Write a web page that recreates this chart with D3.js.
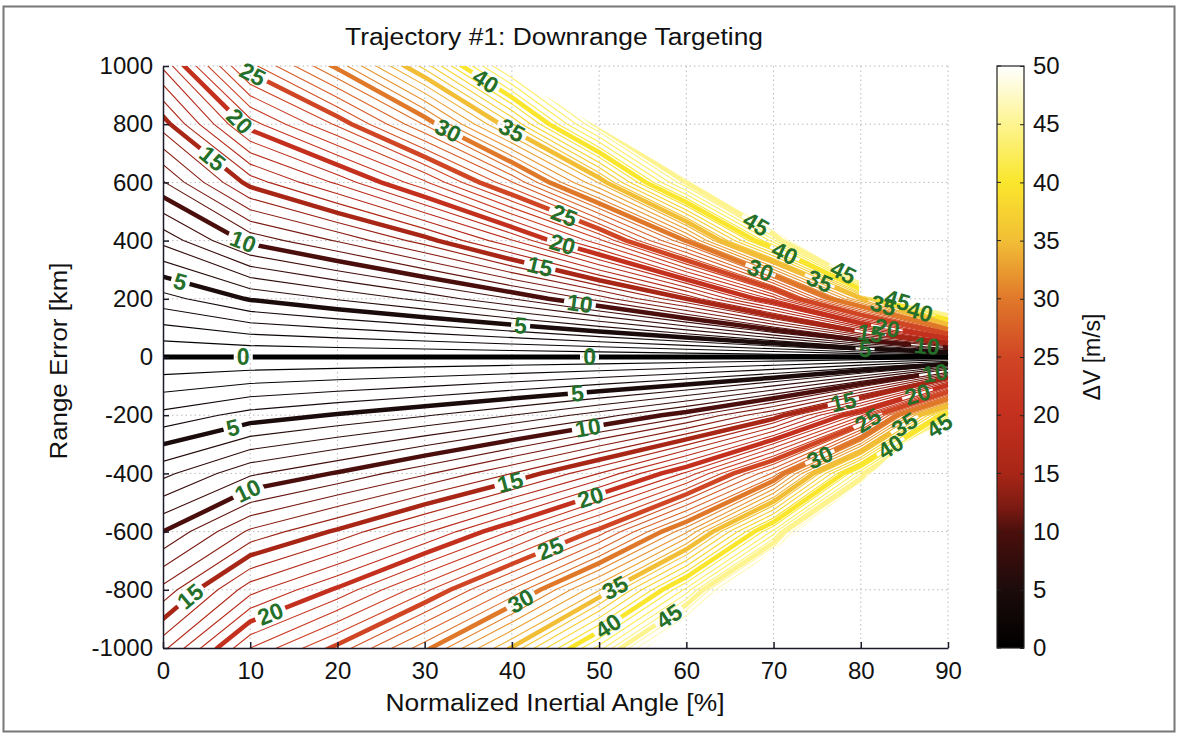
<!DOCTYPE html>
<html>
<head>
<meta charset="utf-8">
<script src="https://cdn.jsdelivr.net/npm/d3@7"></script>
<style>
  body { margin: 0; background: #fff; }
  text { font-family: Arial, "Liberation Sans", sans-serif; }
</style>
</head>
<body>
<div id="chart"></div>
<script>
// grid nodes: Normalized Inertial Angle [%] (columns) and Range Error [km] (rows)
const gridX = [-10, 0, 10, 20, 30, 40, 50, 60, 70, 80, 90, 100];
const gridY = [-1200, -1000, -800, -600, -400, -200, 0, 200, 400, 600, 800, 1000, 1200];
// ΔV [m/s] read at each node, one row per gridY value
const dvRows = [
    [20.0, 20.0, 26.4, 30.3, 35.5, 42.1, 50.9, 63.5, 84.5, 129.0, 250.0, 250.0],
    [16.7, 16.7, 22.0, 25.3, 29.6, 35.1, 42.4, 52.9, 70.4, 107.5, 208.3, 208.3],
    [13.3, 13.3, 17.6, 20.2, 23.7, 28.1, 33.9, 42.3, 56.3, 86.0, 166.7, 166.7],
    [10.0, 10.0, 13.2, 15.2, 17.8, 21.1, 25.4, 31.8, 42.3, 64.5, 125.0, 125.0],
    [6.7, 6.7, 8.8, 10.1, 11.8, 14.0, 17.0, 21.2, 28.2, 43.0, 83.3, 83.3],
    [3.3, 3.3, 4.4, 5.1, 5.9, 7.0, 8.5, 10.6, 14.1, 21.5, 41.7, 41.7],
    [0, 0, 0, 0, 0, 0, 0, 0, 0, 0, 0, 0],
    [3.6, 3.6, 5.1, 6.1, 7.3, 9.0, 11.4, 15.0, 21.3, 34.5, 62.5, 62.5],
    [7.3, 7.3, 10.3, 12.1, 14.5, 17.9, 22.7, 30.1, 42.6, 69.0, 125.0, 125.0],
    [10.9, 10.9, 15.4, 18.2, 21.8, 26.9, 34.1, 45.1, 63.8, 103.4, 187.5, 187.5],
    [14.5, 14.5, 20.5, 24.2, 29.1, 35.9, 45.5, 60.2, 85.1, 137.9, 250.0, 250.0],
    [18.2, 18.2, 25.6, 30.3, 36.4, 44.8, 56.8, 75.2, 106.4, 172.4, 312.5, 312.5],
    [21.8, 21.8, 30.8, 36.4, 43.6, 53.8, 68.2, 90.2, 127.7, 206.9, 375.0, 375.0]
];
// edge of the computed region (angle %, range km)
const fanBoundary = [[0, 1000], [38, 1000], [79.8, 262], [79.8, 213], [90, 151],
    [90, -216], [85, -295], [80.3, -425], [55.5, -1000], [0, -1000]];
// contour levels (sign = side of target)
const levels = d3.range(-50, 51);
// inline labels: [level, angle %]
const labelSpots = [
    [25, 10.3], [20, 8.8], [15, 5.7], [10, 9.2], [5, 2], [0, 9.2],
    [40, 37], [30, 32.7], [35, 40], [25, 46], [20, 45.8], [15, 43.2], [10, 47.8], [5, 41], [0, 48.9],
    [45, 68], [40, 71.3], [30, 68.5], [35, 75.3], [45, 78],
    [35, 82.6], [45, 84.2], [40, 86.8], [15, 81.1], [20, 83], [5, 80.5], [10, 87.6],
    [-5, 8], [-10, 9.7], [-15, 3.1], [-20, 12.3],
    [-5, 47.5], [-10, 48.7], [-15, 39.8], [-20, 49], [-25, 44.4], [-30, 41], [-35, 51.8], [-40, 51], [-45, 58],
    [-15, 78], [-25, 80.8], [-30, 75.3], [-40, 83.4], [-35, 85], [-20, 86.5], [-45, 89], [-10, 88.5]
];
const xTicks = [0, 10, 20, 30, 40, 50, 60, 70, 80, 90];
const yTicks = [-1000, -800, -600, -400, -200, 0, 200, 400, 600, 800, 1000];
const cbTicks = [0, 5, 10, 15, 20, 25, 30, 35, 40, 45, 50];
const colorStops = [0, 5, 10, 12, 15, 20, 25, 30, 35, 40, 45, 50];
const colorValues = ["#000000", "#1c0b0b", "#4a0f0c", "#7a1a12", "#a82616", "#c4301e", "#d04624",
    "#e0782a", "#f2be36", "#fae62c", "#fdf490", "#ffffff"];

const width = 1177, height = 734;
const x = d3.scaleLinear().domain([0, 90]).range([163, 948]);
const y = d3.scaleLinear().domain([-1000, 1000]).range([648, 66]);
const color = d3.scaleLinear().domain(colorStops).range(colorValues);

const svg = d3.select("#chart")
    .append("svg")
    .attr("width", width)
    .attr("height", height);

// figure frame
svg.append("rect")
    .attr("x", 3.5).attr("y", 6.5)
    .attr("width", 1171).attr("height", 725)
    .attr("fill", "#fff")
    .attr("stroke", "#777")
    .attr("stroke-width", 2);

const defs = svg.append("defs");
defs.append("clipPath").attr("id", "fan")
    .append("path")
    .attr("d", d3.line().x(d => x(d[0])).y(d => y(d[1]))(fanBoundary) + "Z");

// grid
svg.append("g").selectAll("line")
    .data(xTicks.slice(1))
    .join("line")
    .attr("x1", d => x(d)).attr("x2", d => x(d))
    .attr("y1", y(-1000)).attr("y2", y(1000))
    .attr("stroke", "#bbb").attr("stroke-dasharray", "1.5,3");
svg.append("g").selectAll("line")
    .data(yTicks.slice(1))
    .join("line")
    .attr("x1", x(0)).attr("x2", x(90))
    .attr("y1", d => y(d)).attr("y2", d => y(d))
    .attr("stroke", "#bbb").attr("stroke-dasharray", "1.5,3");

// contour field (signed: below target negative)
const nx = gridX.length, ny = gridY.length;
const values = [];
dvRows.forEach((row, j) => row.forEach(v => values.push(Math.sign(gridY[j]) * v)));

const gx = d3.scaleLinear().domain([0.5, nx - 0.5]).range([gridX[0], gridX[nx - 1]]);
const gy = d3.scaleLinear().domain([0.5, ny - 0.5]).range([gridY[0], gridY[ny - 1]]);
const path = d3.geoPath(d3.geoTransform({
    point(px, py) { this.stream.point(x(gx(px)), y(gy(py))); }
}));

const contours = d3.contours().size([nx, ny]).thresholds(levels)(values);
const byLevel = new Map(contours.map(c => [c.value, c]));

function pointOn(contour, x0) {
    for (const poly of contour.coordinates) {
        for (const ring of poly) {
            for (let i = 1; i < ring.length; i++) {
                const ax = gx(ring[i - 1][0]), ay = gy(ring[i - 1][1]);
                const bx = gx(ring[i][0]), by = gy(ring[i][1]);
                if (ax === bx || (ax - x0) * (bx - x0) > 0) continue;
                const yy = ay + (by - ay) * (x0 - ax) / (bx - ax);
                if (Math.abs(yy) > 1100) continue;
                let ang = Math.atan2(y(by) - y(ay), x(bx) - x(ax)) * 180 / Math.PI;
                if (ang > 90) ang -= 180;
                if (ang < -90) ang += 180;
                return { px: x(x0), py: y(yy), angle: ang };
            }
        }
    }
    return null;
}

const labels = labelSpots
    .map(([lv, a]) => ({ lv, text: String(Math.abs(lv)), p: pointOn(byLevel.get(lv), a) }))
    .filter(d => d.p);

// masks that break the labelled line under its label
const maskId = lv => "m" + (lv < 0 ? "n" : "p") + Math.abs(lv);
d3.group(labels, d => d.lv).forEach((list, lv) => {
    const m = defs.append("mask").attr("id", maskId(lv))
        .attr("maskUnits", "userSpaceOnUse")
        .attr("x", 0).attr("y", 0).attr("width", width).attr("height", height);
    m.append("rect").attr("width", width).attr("height", height).attr("fill", "#fff");
    list.forEach(d => {
        const w = d.text.length * 13 + 6;
        m.append("rect")
            .attr("x", -w / 2).attr("y", -9)
            .attr("width", w).attr("height", 18)
            .attr("fill", "#000")
            .attr("transform", `translate(${d.p.px},${d.p.py}) rotate(${d.p.angle})`);
    });
});
const labelled = new Set(labels.map(d => d.lv));

const lineData = contours.slice().sort((a, b) => (a.value % 5 === 0) - (b.value % 5 === 0));
svg.append("g")
    .attr("clip-path", "url(#fan)")
    .selectAll("path")
    .data(lineData)
    .join("path")
    .attr("d", path)
    .attr("fill", "none")
    .attr("stroke", d => color(Math.abs(d.value)))
    .attr("stroke-width", d => d.value === 0 ? 5 : d.value % 5 === 0 ? 4.5 : 1.1)
    .attr("mask", d => labelled.has(d.value) ? `url(#${maskId(d.value)})` : null);

svg.append("g")
    .selectAll("text")
    .data(labels)
    .join("text")
    .attr("transform", d => `translate(${d.p.px},${d.p.py}) rotate(${d.p.angle})`)
    .attr("text-anchor", "middle")
    .attr("dy", "0.36em")
    .attr("fill", "#24702a")
    .style("font-size", "23px")
    .style("font-weight", "bold")
    .text(d => d.text);

// axes
const yAxis = svg.append("g")
    .attr("transform", `translate(${x(0)},0)`)
    .call(d3.axisLeft(y).tickValues(yTicks).tickFormat(d => String(d))
        .tickSize(-6).tickSizeOuter(0).tickPadding(10));
const xAxis = svg.append("g")
    .attr("transform", `translate(0,${y(-1000)})`)
    .call(d3.axisBottom(x).tickValues(xTicks).tickFormat(d => String(d))
        .tickSize(-6).tickSizeOuter(0).tickPadding(14));
[xAxis, yAxis].forEach(g => {
    g.selectAll(".domain, .tick line").attr("stroke", "#1a1a2a").attr("stroke-width", 1.5);
    g.selectAll("text").attr("fill", "#111").style("font-size", "24px");
});

// title and axis labels
svg.append("text")
    .attr("x", 554).attr("y", 45)
    .attr("text-anchor", "middle")
    .attr("textLength", 418).attr("lengthAdjust", "spacingAndGlyphs")
    .attr("fill", "#111").style("font-size", "23px")
    .text("Trajectory #1: Downrange Targeting");
svg.append("text")
    .attr("x", 555).attr("y", 711)
    .attr("text-anchor", "middle")
    .attr("textLength", 339).attr("lengthAdjust", "spacingAndGlyphs")
    .attr("fill", "#111").style("font-size", "23px")
    .text("Normalized Inertial Angle [%]");
svg.append("text")
    .attr("transform", "translate(67,361) rotate(-90)")
    .attr("text-anchor", "middle")
    .attr("textLength", 197).attr("lengthAdjust", "spacingAndGlyphs")
    .attr("fill", "#111").style("font-size", "23px")
    .text("Range Error [km]");

// colorbar
const cb = d3.scaleLinear().domain([0, 50]).range([648, 66]);
const grad = defs.append("linearGradient").attr("id", "cbgrad")
    .attr("x1", 0).attr("y1", 1).attr("x2", 0).attr("y2", 0);
grad.selectAll("stop")
    .data(colorStops)
    .join("stop")
    .attr("offset", d => d / 50)
    .attr("stop-color", d => color(d));
svg.append("rect")
    .attr("x", 997).attr("y", cb(50))
    .attr("width", 27).attr("height", cb(0) - cb(50))
    .attr("fill", "url(#cbgrad)")
    .attr("stroke", "#222").attr("stroke-width", 1.2);
svg.append("g").selectAll("line")
    .data(cbTicks)
    .join("line")
    .attr("x1", 997).attr("x2", 1001)
    .attr("y1", d => cb(d)).attr("y2", d => cb(d))
    .attr("stroke", "#222");
const cbAxis = svg.append("g")
    .attr("transform", "translate(1024,0)")
    .call(d3.axisRight(cb).tickValues(cbTicks).tickSize(-4).tickSizeOuter(0).tickPadding(9));
cbAxis.select(".domain").remove();
cbAxis.selectAll(".tick line").attr("stroke", "#222");
cbAxis.selectAll("text").attr("fill", "#111").style("font-size", "24px");
svg.append("text")
    .attr("transform", "translate(1100,357) rotate(-90)")
    .attr("text-anchor", "middle")
    .attr("fill", "#111").style("font-size", "23px")
    .text("ΔV [m/s]");
</script>
</body>
</html>
